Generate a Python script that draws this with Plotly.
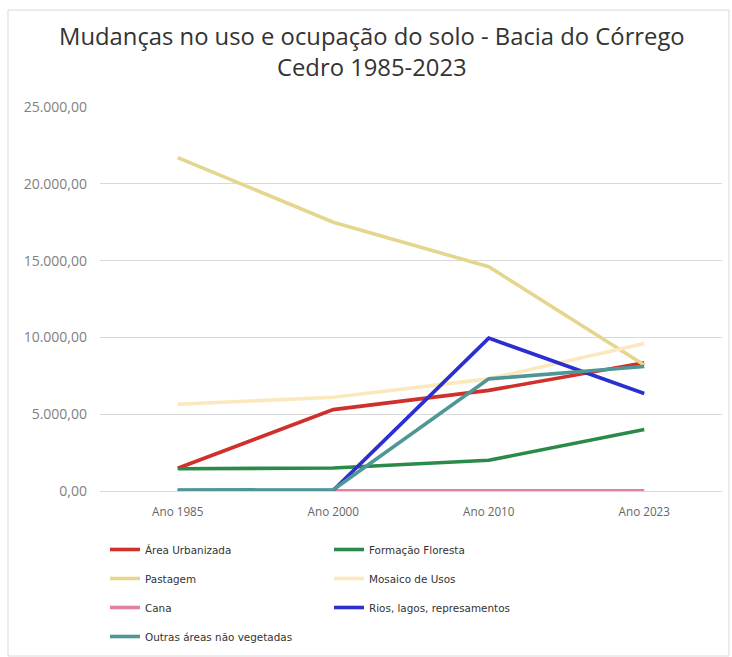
import plotly.graph_objects as go

categories = ["Ano 1985", "Ano 2000", "Ano 2010", "Ano 2023"]

area_urbanizada = [1480, 5300, 6550, 8350]
formacao_florestal = [1450, 1500, 2000, 4000]
pastagem = [21700, 17500, 14600, 8200]
mosaico_usos = [5650, 6100, 7300, 9600]
cana = [20, 20, 20, 20]
rios = [30, 40, 9950, 6350]
outras = [60, 80, 7300, 8100]

series = [
    ("Área Urbanizada", area_urbanizada, "#cf302c", "legend"),
    ("Formação Floresta", formacao_florestal, "#2b8a4a", "legend2"),
    ("Pastagem", pastagem, "#e4d68e", "legend"),
    ("Mosaico de Usos", mosaico_usos, "#fbe8bd", "legend2"),
    ("Cana", cana, "#e2809d", "legend"),
    ("Rios, lagos, represamentos", rios, "#2b2fd0", "legend2"),
    ("Outras áreas não vegetadas", outras, "#4f9797", "legend"),
]

fig = go.Figure()
for name, vals, color, leg in series:
    fig.add_trace(go.Scatter(
        x=categories, y=vals, mode="lines", name=name,
        line=dict(color=color, width=3.6),
        legend=leg, legendgroup=name,
    ))

W, H = 732, 657
ml, mr, mt, mb = 100, 10, 107, 166
pw, ph = W - ml - mr, H - mt - mb

def px(x):
    return (x - ml) / pw

def py(y):
    return (H - mb - y) / ph

legfont = dict(family="DejaVu Sans", size=10.4, color="#333333")
fig.update_layout(
    width=W, height=H,
    margin=dict(l=ml, r=mr, t=mt, b=mb, autoexpand=False),
    paper_bgcolor="white", plot_bgcolor="white",
    separators=",.",
    title=dict(
        text="Mudanças no uso e ocupação do solo - Bacia do Córrego<br>Cedro 1985-2023",
        x=0.508, xanchor="center", y=0.932, yanchor="top",
        font=dict(family="Open Sans", size=23.8, color="#333333"),
    ),
    xaxis=dict(
        showgrid=False, showline=False, zeroline=False,
        tickfont=dict(family="Open Sans", size=11.7, color="#666666"),
        ticks="", range=[-0.5, 3.5], ticklabelstandoff=12,
    ),
    yaxis=dict(
        range=[0, 25000], dtick=5000, tickformat=",.2f",
        showgrid=True, gridcolor="#d9d9d9", gridwidth=1,
        zeroline=True, zerolinecolor="#d9d9d9", zerolinewidth=1,
        showline=False, ticks="",
        tickfont=dict(family="Open Sans", size=14, color="#808080"),
        ticklabelstandoff=12,
    ),
    legend=dict(
        x=px(105), y=py(535), xanchor="left", yanchor="top",
        font=legfont, tracegroupgap=10, bgcolor="rgba(0,0,0,0)",
    ),
    legend2=dict(
        x=px(329), y=py(535), xanchor="left", yanchor="top",
        font=legfont, tracegroupgap=10, bgcolor="rgba(0,0,0,0)",
    ),
    showlegend=True,
    shapes=[dict(
        type="rect", xref="paper", yref="paper",
        x0=px(8), x1=px(729), y0=py(656), y1=py(10),
        line=dict(color="#d9d9d9", width=1), fillcolor="rgba(0,0,0,0)",
        layer="below",
    )],
)

fig.write_html(
    "out.html",
    config={"displayModeBar": False},
    post_script="document.body.style.margin='0';",
)
